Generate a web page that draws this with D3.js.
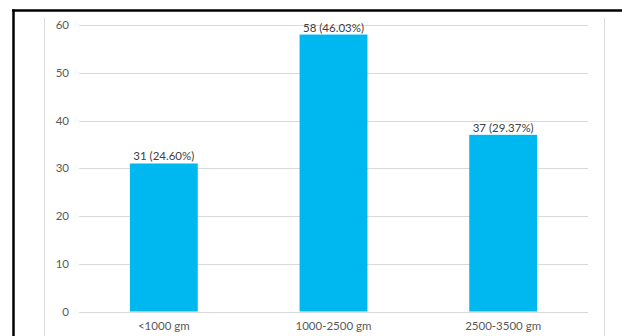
<!DOCTYPE html>
<html>
<head>
<meta charset="utf-8">
<script src="https://cdn.jsdelivr.net/npm/d3@7"></script>
<style>
  html, body { margin: 0; padding: 0; background: #fff; }
  svg { display: block; }
</style>
</head>
<body>
<script>
// Birth-weight groups and the number of cases in each
const categories = ["<1000 gm", "1000-2500 gm", "2500-3500 gm"];
const counts = [31, 58, 37];
const percents = ["24.60%", "46.03%", "29.37%"];
const yTicks = [0, 10, 20, 30, 40, 50, 60];

const W = 622, H = 336;
const svg = d3.select("body").append("svg").attr("width", W).attr("height", H);

const font = "Lato, 'Open Sans', sans-serif";
const fs = 11.5;

const x = d3.scaleBand().domain(categories).range([79, 588])
  .paddingInner(0.6).paddingOuter(0.3);
const y = d3.scaleLinear().domain([0, 60]).range([311.5, 25]);

// Frame: dark top/left border and light side rules of the chart area
svg.append("line").attr("x1", 12).attr("x2", W).attr("y1", 10.5).attr("y2", 10.5)
  .attr("stroke", "#000").attr("stroke-width", 2.5);
svg.append("line").attr("x1", 13.5).attr("x2", 13.5).attr("y1", 9.5).attr("y2", H)
  .attr("stroke", "#000").attr("stroke-width", 2.5);
[44.5, 604.5].forEach(px => {
  svg.append("line").attr("x1", px).attr("x2", px).attr("y1", 18).attr("y2", H)
    .attr("stroke", "#d9d9d9").attr("stroke-width", 1);
});

// Horizontal gridlines
svg.append("g").selectAll("line").data(yTicks).join("line")
  .attr("x1", 79).attr("x2", 588)
  .attr("y1", d => Math.round(y(d)) + 0.5).attr("y2", d => Math.round(y(d)) + 0.5)
  .attr("stroke", "#d9d9d9").attr("stroke-width", 1);

// Y tick labels
svg.append("g").selectAll("text").data(yTicks).join("text")
  .attr("x", 69).attr("y", d => y(d)).attr("dy", "0.35em")
  .attr("text-anchor", "end")
  .attr("font-family", font).attr("font-size", fs).attr("fill", "#595959")
  .text(d => d);

// Bars
svg.append("g").selectAll("rect").data(categories).join("rect")
  .attr("x", d => x(d)).attr("width", x.bandwidth())
  .attr("y", (d, i) => y(counts[i])).attr("height", (d, i) => y(0) - y(counts[i]))
  .attr("fill", "#00b8f0");

// Value labels above bars
svg.append("g").selectAll("text").data(categories).join("text")
  .attr("x", d => x(d) + x.bandwidth() / 2)
  .attr("y", (d, i) => y(counts[i]) - 3)
  .attr("text-anchor", "middle")
  .attr("font-family", font).attr("font-size", fs).attr("fill", "#404040")
  .text((d, i) => `${counts[i]} (${percents[i]})`);

// Category labels
svg.append("g").selectAll("text").data(categories).join("text")
  .attr("x", d => x(d) + x.bandwidth() / 2)
  .attr("y", 330)
  .attr("text-anchor", "middle")
  .attr("font-family", font).attr("font-size", fs).attr("fill", "#595959")
  .text(d => d);
</script>
</body>
</html>
